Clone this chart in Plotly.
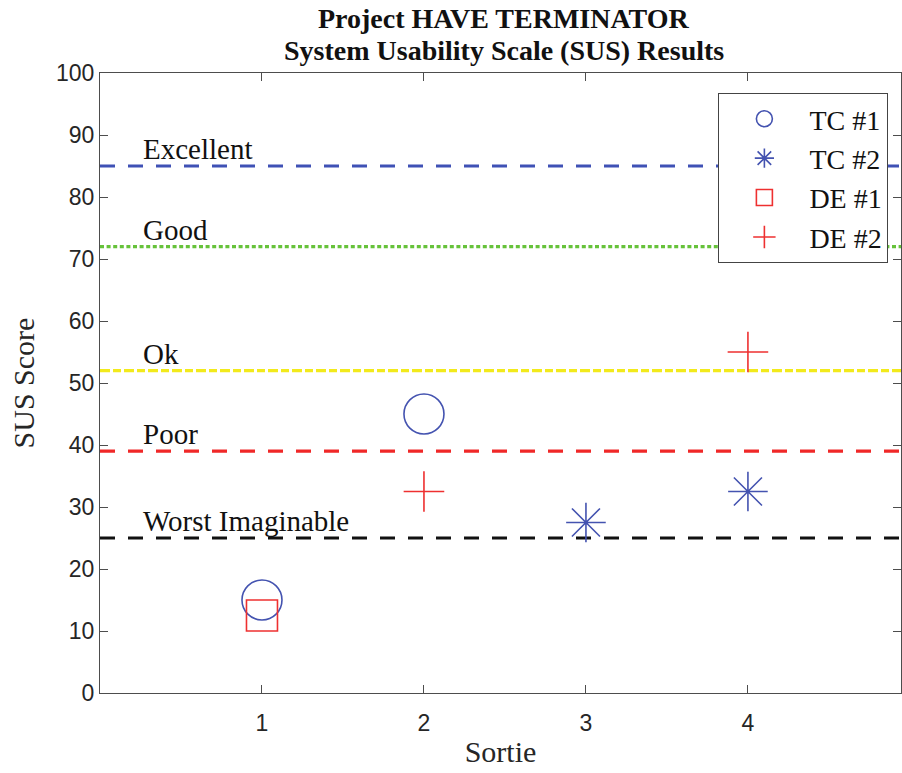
import plotly.graph_objects as go

# Sortie scores per evaluator
tc1_sortie = [1, 2]
tc1_score = [15, 45]
tc2_sortie = [3, 4]
tc2_score = [27.5, 32.5]
de1_sortie = [1]
de1_score = [12.5]
de2_sortie = [2, 4]
de2_score = [32.5, 55]

# SUS adjective thresholds
band_names = ["Excellent", "Good", "Ok", "Poor", "Worst Imaginable"]
band_values = [85, 72, 52, 39, 25]
band_colors = ["#3f51b5", "#66c23a", "#f2ea1c", "#f02828", "#111111"]
band_dash = ["15px,13px", "4px,2.6px", "10px,3px,8px,3px", "15px,13px", "15px,13px"]

title_lines = ["Project HAVE TERMINATOR", "System Usability Scale (SUS) Results"]

x_ticks = [1, 2, 3, 4]
x_range = [0, 4.945]

serif = "Liberation Serif, Times New Roman, serif"
sans = "Liberation Sans, Arial, Helvetica, sans-serif"
axis_grey = "#4d4d4d"
text_dark = "#262626"

fig = go.Figure()

# threshold lines spanning the axis width, each with its label
for name, val, col, dash in zip(band_names, band_values, band_colors, band_dash):
    fig.add_trace(go.Scatter(
        x=x_range, y=[val, val], mode="lines",
        line=dict(color=col, width=3.2, dash=dash),
        showlegend=False, hoverinfo="skip",
    ))
    fig.add_annotation(
        x=0.25, y=val, xref="x", yref="y", text=name,
        showarrow=False, xanchor="left", yanchor="bottom", yshift=-1,
        font=dict(family=serif, size=29, color="#111111"),
    )

blue = "#4453b0"
red = "#ee3030"

fig.add_trace(go.Scatter(
    x=tc1_sortie, y=tc1_score, mode="markers", name="TC #1",
    marker=dict(symbol="circle-open", size=40, color=blue, line=dict(width=1.6, color=blue)),
))
fig.add_trace(go.Scatter(
    x=tc2_sortie, y=tc2_score, mode="markers", name="TC #2",
    marker=dict(symbol="asterisk-open", size=33, color=blue, line=dict(width=1.6, color=blue)),
))
fig.add_trace(go.Scatter(
    x=de1_sortie, y=de1_score, mode="markers", name="DE #1",
    marker=dict(symbol="square-open", size=31, color=red, line=dict(width=1.6, color=red)),
))
fig.add_trace(go.Scatter(
    x=de2_sortie, y=de2_score, mode="markers", name="DE #2",
    marker=dict(symbol="cross-thin-open", size=29, color=red, line=dict(width=1.6, color=red)),
))

# two-line bold title
for line, ypos in zip(title_lines, [1.0887, 1.037]):
    fig.add_annotation(
        x=0.504, y=ypos, xref="paper", yref="paper", text="<b>%s</b>" % line,
        showarrow=False, xanchor="center", yanchor="middle",
        font=dict(family=serif, size=28, color="#111111"),
    )

fig.update_layout(
    width=902, height=773,
    margin=dict(l=100, r=1, t=73, b=80),
    paper_bgcolor="white", plot_bgcolor="white",
    legend=dict(
        x=0.984, y=0.968, xanchor="right", yanchor="top",
        bgcolor="white", bordercolor="#444444", borderwidth=1.2,
        font=dict(family=serif, size=28, color="#111111"),
        itemwidth=80, tracegroupgap=0,
    ),
    showlegend=True,
)

fig.update_xaxes(
    range=x_range, tickvals=x_ticks, ticktext=[str(t) for t in x_ticks],
    showline=True, linecolor=axis_grey, linewidth=1.2, mirror="ticks",
    ticks="inside", ticklen=8, tickcolor=axis_grey, tickwidth=1.2,
    showgrid=False, zeroline=False, ticklabelstandoff=9,
    tickfont=dict(family=sans, size=23, color=text_dark),
    title=dict(text="Sortie", font=dict(family=serif, size=30, color=text_dark), standoff=6),
)
fig.update_yaxes(
    range=[0, 100], dtick=10,
    showline=True, linecolor=axis_grey, linewidth=1.2, mirror="ticks",
    ticks="inside", ticklen=8, tickcolor=axis_grey, tickwidth=1.2,
    showgrid=False, zeroline=False,
    tickfont=dict(family=sans, size=23, color=text_dark),
    title=dict(text="SUS Score", font=dict(family=serif, size=30, color=text_dark), standoff=12),
)

fig.write_html("out.html")
